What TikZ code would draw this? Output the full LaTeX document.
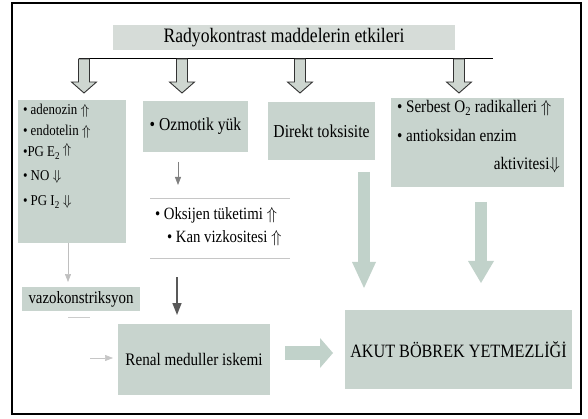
\documentclass[tikz,border=0pt]{standalone}
\usepackage{fontspec}
\setmainfont[FakeStretch=0.86]{Liberation Serif}
\usetikzlibrary{arrows.meta,calc}
\definecolor{boxfill}{RGB}{200,212,206}
\definecolor{titlefill}{RGB}{214,220,216}
\definecolor{bigarr}{RGB}{193,210,202}
\definecolor{hollowfill}{RGB}{206,214,208}
\begin{document}
\begin{tikzpicture}[x=1pt,y=-1pt,
  box/.style={fill=boxfill, inner sep=0pt, outer sep=0pt},
  lbl/.style={inner sep=0pt, outer sep=0pt},
  thinarr/.style={line width=0.8pt, -{Triangle[width=6pt,length=8pt]}},
  bigarrow/.style={draw=bigarr, line width=12pt, -{Triangle[width=24pt,length=26pt,line width=0pt]}},
  hollow/.style={draw=black!80, line width=0.9pt, fill=hollowfill, line join=miter},
  hollowdown/.pic={\draw[hollow] (-5.5,0) -- (-5.5,23) -- (-12.5,23) -- (0,34) -- (12.5,23) -- (5.5,23) -- (5.5,0) -- cycle;}
]
\useasboundingbox (0,0) rectangle (588,419);
\draw[line width=1.2pt] (12,3) rectangle (581,414);

% title and bar
\node[fill=titlefill, minimum width=342pt, minimum height=25pt, inner sep=0pt,
      font=\fontsize{20.5}{22}\selectfont] (title) at (284,37.5) {Radyokontrast maddelerin etkileri};
\coordinate (barL) at (79,59);
\coordinate (barR) at (493,59);
\draw[line width=1pt] (barL) -- (barR);
\pic at (84,59) {hollowdown};
\pic at (182,59) {hollowdown};
\pic at (300,59) {hollowdown};
\pic at (459,59) {hollowdown};

% box 1
\node[box, minimum width=108pt, minimum height=143pt] (b1) at (72,171.5) {};
\begin{scope}[every node/.style={lbl, anchor=base west, font=\fontsize{15}{16}\selectfont}]
\node (b1a) at (23,115) {\textbullet\ adenozin $\Uparrow$};
\node (b1b) at (23,136) {\textbullet\ endotelin $\Uparrow$};
\node (b1c) at (23,157) {\textbullet PG E\textsubscript{2}\,\raisebox{3pt}{$\Uparrow$}};
\node (b1d) at (23,181) {\textbullet\ NO $\Downarrow$};
\node (b1e) at (23,206) {\textbullet\ PG I\textsubscript{2} $\Downarrow$};
\end{scope}

% box 2, 3
\node[box, minimum width=105pt, minimum height=51pt, font=\fontsize{18.2}{20}\selectfont] (b2) at (195.5,126.5) {\textbullet\ Ozmotik yük};
\node[box, minimum width=107pt, minimum height=58pt, font=\fontsize{18.2}{20}\selectfont] (b3) at (321.5,131) {Direkt toksisite};

% box 4
\node[box, minimum width=173pt, minimum height=89pt] (b4) at (477.5,142.5) {};
\begin{scope}[every node/.style={lbl, font=\fontsize{17.6}{18}\selectfont}]
\node[anchor=base west] (b4a) at (397,113) {\textbullet\ Serbest O\textsubscript{2} radikalleri $\Uparrow$};
\node[anchor=base west] (b4b) at (397,142) {\textbullet\ antioksidan enzim};
\node[anchor=base east] (b4c) at (560,170) {aktivitesi$\Downarrow$};
\end{scope}

% oksijen block
\node[lbl, minimum width=140pt, minimum height=60pt] (ok) at (220,228) {};
\draw[gray!45, line width=0.6pt] (ok.north west) -- (ok.north east);
\draw[gray!45, line width=0.6pt] (ok.south west) -- (ok.south east);
\begin{scope}[every node/.style={lbl, anchor=base west, font=\fontsize{17.2}{18}\selectfont}]
\node (oka) at (155,220) {\textbullet\ Oksijen tüketimi $\Uparrow$};
\node (okb) at (167,243) {\textbullet\ Kan vizkositesi $\Uparrow$};
\end{scope}

% lower boxes
\node[box, minimum width=118pt, minimum height=24pt, font=\fontsize{17.3}{18}\selectfont] (vazo) at (81,299) {vazokonstriksyon};
\node[box, minimum width=152pt, minimum height=71pt, font=\fontsize{17.6}{18}\selectfont] (renal) at (194,359.5) {Renal meduller iskemi};
\node[box, minimum width=227pt, minimum height=79pt, font=\fontsize{18.8}{19}\selectfont] (akut) at (458.5,349.5) {AKUT BÖBREK YETMEZLİĞİ};

% connectors
\coordinate (xA) at (178,0);
\coordinate (xB) at (68,0);
\coordinate (xO) at (177,0);
\coordinate (xC) at (364,0);
\coordinate (xD) at (481,0);
\coordinate (yE) at (0,353);
\draw[thinarr, draw=gray, fill=gray, shorten <=10pt, shorten >=13pt] (b2.south -| xA) -- (ok.north -| xA);
\draw[thinarr, draw=gray!50, fill=gray!50, line width=0.6pt, shorten >=5pt] (b1.south -| xB) -- (vazo.north -| xB);
\draw[draw=black!65, line width=1.5pt, -{Triangle[width=9pt,length=12pt]}, shorten <=19pt, shorten >=9pt] (ok.south -| xO) -- (renal.north -| xO);
\coordinate (vd1) at (68,317);
\coordinate (vd2) at (90,317);
\draw[gray!40, line width=0.8pt] (vd1) -- (vd2);
\coordinate (vr) at (90,358);
\draw[thinarr, draw=gray!45, line width=0.6pt, shorten >=5pt] (vr) -- (renal.west |- vr);
\draw[bigarrow, shorten <=12pt, shorten >=22pt] (b3.south -| xC) -- (akut.north -| xC);
\draw[bigarrow, -{Triangle[width=26pt,length=22pt,line width=0pt]}, shorten <=15pt, shorten >=27pt] (b4.south -| xD) -- (akut.north -| xD);
\draw[bigarrow, line width=14pt, -{Triangle[width=30pt,length=13pt,line width=0pt]}, shorten <=15pt, shorten >=12pt] (renal.east |- yE) -- (akut.west |- yE);
\end{tikzpicture}
\end{document}
